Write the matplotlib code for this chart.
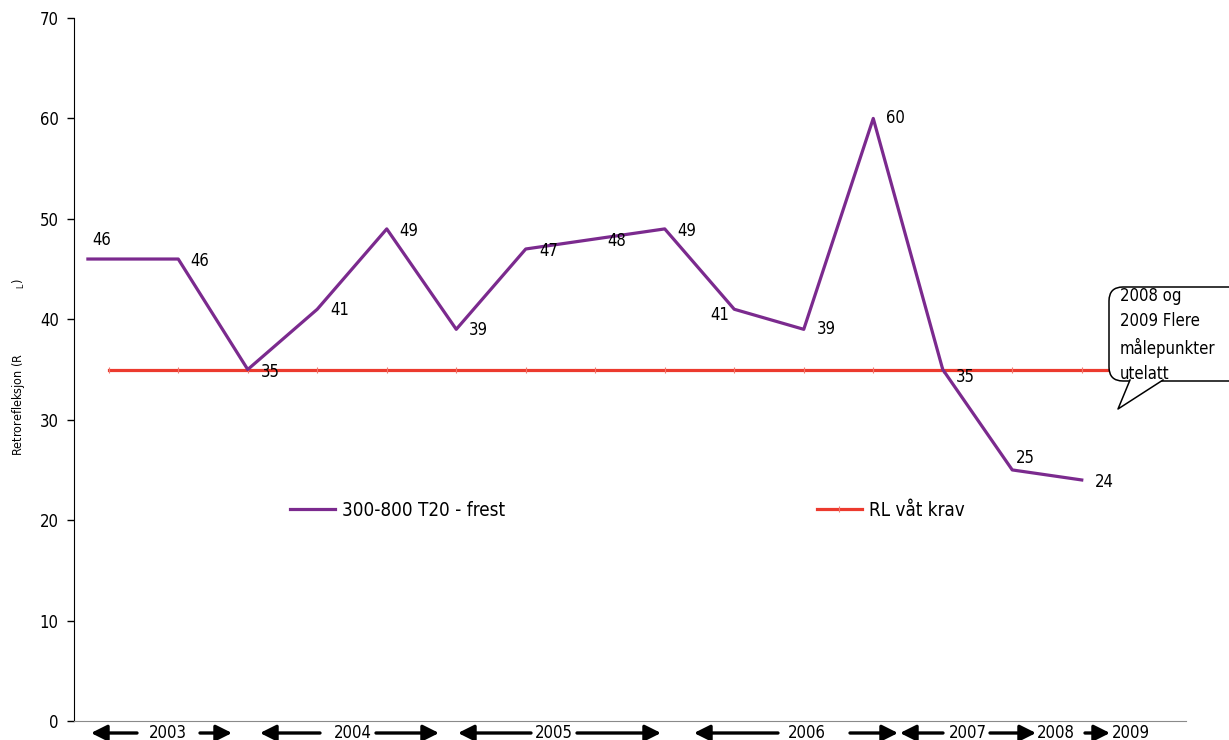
import numpy as np
import matplotlib
matplotlib.use('Agg')
import matplotlib.pyplot as plt
from matplotlib.patches import FancyBboxPatch, Polygon
from matplotlib.lines import Line2D
from matplotlib.transforms import IdentityTransform

plt.rcParams['font.family'] = ['DejaVu Sans']
plt.rcParams['font.stretch'] = 'condensed'
plt.rcParams['mathtext.default'] = 'regular'

# Retroreflection, 300-800 T20 frest, one value per measurement
frest_x = [-0.3, 1, 2, 3, 4, 5, 6, 7, 8, 9, 10, 11, 12, 13, 14]
frest_vals = [46, 46, 35, 41, 49, 39, 47, 48, 49, 41, 39, 60, 35, 25, 24]

# Requirement RL wet
krav_x = list(range(16))
krav_vals = [35] * 16

years = ['2003', '2004', '2005', '2006', '2007', '2008', '2009']

W, H = 1229, 740
fig = plt.figure(figsize=(W / 100, H / 100), dpi=100)
ax = fig.add_axes([74 / W, 1 - 721 / H, 1112 / W, 703 / H])

purple = '#7b2a8e'
red = '#ec3a2e'

ax.plot(krav_x, krav_vals, color=red, lw=2.3, marker='|', ms=4, mew=0.8,
        mec='#f07a70', label='RL våt krav', zorder=2)
ax.plot(frest_x, frest_vals, color=purple, lw=2.3, label='300-800 T20 - frest',
        zorder=3)

# label offsets in pixels
offs = [(4, 19, 'left'), (12, -2, 'left'), (13, -2, 'left'), (13, -1, 'left'),
        (13, -2, 'left'), (13, -1, 'left'), (14, -2, 'left'), (12, -2, 'left'),
        (13, -2, 'left'), (-5, -6, 'right'), (13, 0, 'left'), (13, 0, 'left'),
        (13, -7, 'left'), (4, 12, 'left'), (13, -2, 'left')]
for xv, yv, (dx, dy, ha) in zip(frest_x, frest_vals, offs):
    ax.annotate(str(yv), (xv, yv), xytext=(dx, dy), textcoords='offset pixels',
                ha=ha, va='center', fontsize=12)

ax.set_xlim(-0.5, 15.5)
ax.set_ylim(0, 70)
ax.set_yticks(np.arange(0, 71, 10))
ax.set_xticks([])
ax.tick_params(axis='y', direction='out', length=5, width=1, pad=6,
               labelsize=12)
for s in ['top', 'right']:
    ax.spines[s].set_visible(False)
ax.spines['left'].set_color('black')
ax.spines['bottom'].set_color('#8a8a8a')

ax.set_ylabel(r'Retrorefleksjon (R$\quad\quad\quad\quad\quad\quad{}_{L}$)',
              fontsize=9)
ax.yaxis.set_label_coords(-0.042, 0.503)

leg = ax.legend(handles=ax.get_lines()[::-1], ncol=2, frameon=False,
                fontsize=13.5, handlelength=2.4, handletextpad=0.4,
                columnspacing=16.6, borderpad=0, borderaxespad=0,
                loc='center left', bbox_to_anchor=(290 / W, 1 - 510 / H),
                bbox_transform=fig.transFigure)

# year spans under the axis
yb = H - 733
arrows = [(137, 91), (200, 232), (320, 260), (376, 439), (531, 458), (577, 661),
          (778, 694), (850, 898), (943, 900), (990, 1036), (1085, 1110)]
for x0, x1 in arrows:
    ax.annotate('', xy=(x1, yb), xytext=(x0, yb), xycoords='figure pixels',
                textcoords='figure pixels', annotation_clip=False,
                arrowprops=dict(arrowstyle='-|>,head_length=0.8,head_width=0.4',
                                mutation_scale=12, lw=2.4, color='black',
                                shrinkA=0, shrinkB=0))
year_x = [168, 353, 554, 807, 968, 1056, 1131]
for xv, yr in zip(year_x, years):
    fig.text(xv / W, yb / H, yr, ha='center', va='center', fontsize=12)

# speech bubble note
box = FancyBboxPatch((1109, H - 381), 140, 94,
                     boxstyle='round,pad=0,rounding_size=14',
                     fc='white', ec='black', lw=1.1, transform=IdentityTransform(),
                     zorder=5)
fig.add_artist(box)
tail = [(1130, H - 380), (1118, H - 409), (1163, H - 380)]
fig.add_artist(Polygon(tail, closed=True, fc='white', ec='none',
                       transform=IdentityTransform(), zorder=6))
fig.add_artist(Line2D([p[0] for p in tail], [p[1] for p in tail], color='black',
                      lw=1.1, transform=IdentityTransform(), zorder=7))
fig.text(1120 / W, 1 - 287 / H, '2008 og\n2009 Flere\nmålepunkter\nutelatt',
         ha='left', va='top', fontsize=12, linespacing=1.5, zorder=8)

fig.savefig('out.png', dpi=100)
